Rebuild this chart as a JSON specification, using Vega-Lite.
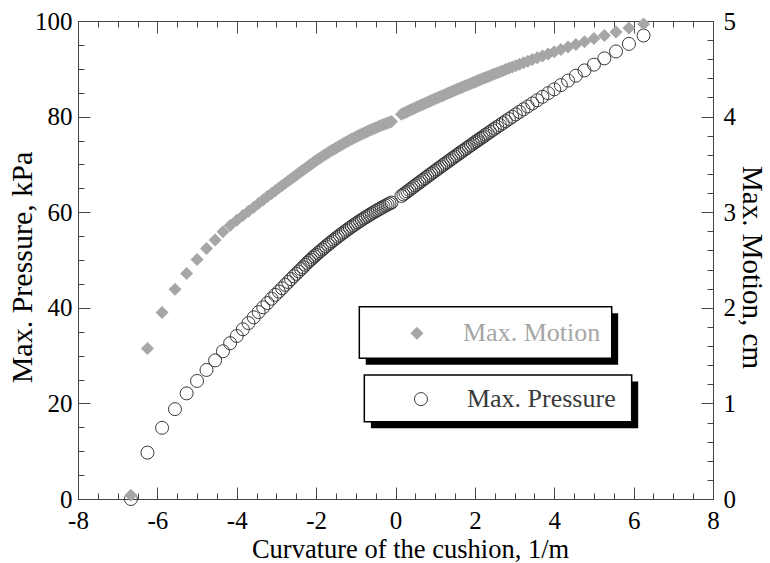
{
  "$schema": "https://vega.github.io/schema/vega-lite/v6.json",
  "width": 635,
  "height": 478,
  "autosize": "none",
  "padding": {"left": 78, "top": 21, "right": 57, "bottom": 64},
  "background": "white",
  "config": {
    "view": {"stroke": null},
    "font": "Liberation Serif",
    "axis": {
      "labelFont": "Liberation Serif",
      "titleFont": "Liberation Serif",
      "labelFontSize": 25,
      "titleFontSize": 26,
      "titleFontWeight": "normal",
      "labelColor": "black",
      "titleColor": "black",
      "domainColor": "#444444",
      "tickColor": "#444444",
      "grid": false,
      "labelFlush": false,
      "labelOverlap": false
    }
  },
  "datasets": {
    "curve": [
      {"c": -6.667, "p": 0, "m": 0.04},
      {"c": -6.25, "p": 9.7, "m": 1.575},
      {"c": -5.882, "p": 14.9, "m": 1.95},
      {"c": -5.556, "p": 18.8, "m": 2.195},
      {"c": -5.263, "p": 22.1, "m": 2.36},
      {"c": -5.0, "p": 24.7, "m": 2.505},
      {"c": -4.762, "p": 27.0, "m": 2.62},
      {"c": -4.545, "p": 29.0, "m": 2.71},
      {"c": -4.348, "p": 30.9, "m": 2.795},
      {"c": -4.167, "p": 32.6, "m": 2.86},
      {"c": -4.0, "p": 34.1, "m": 2.915},
      {"c": -3.846, "p": 35.5, "m": 2.965},
      {"c": -3.704, "p": 36.8, "m": 3.011},
      {"c": -3.571, "p": 38.0, "m": 3.053},
      {"c": -3.448, "p": 39.1, "m": 3.093},
      {"c": -3.333, "p": 40.1, "m": 3.129},
      {"c": -3.226, "p": 41.0, "m": 3.163},
      {"c": -3.125, "p": 41.9, "m": 3.195},
      {"c": -3.03, "p": 42.7, "m": 3.224},
      {"c": -2.941, "p": 43.4, "m": 3.252},
      {"c": -2.857, "p": 44.1, "m": 3.278},
      {"c": -2.778, "p": 44.8, "m": 3.303},
      {"c": -2.703, "p": 45.4, "m": 3.326},
      {"c": -2.632, "p": 46.0, "m": 3.348},
      {"c": -2.564, "p": 46.6, "m": 3.369},
      {"c": -2.5, "p": 47.1, "m": 3.388},
      {"c": -2.439, "p": 47.6, "m": 3.407},
      {"c": -2.381, "p": 48.1, "m": 3.425},
      {"c": -2.326, "p": 48.5, "m": 3.442},
      {"c": -2.273, "p": 49.0, "m": 3.458},
      {"c": -2.222, "p": 49.4, "m": 3.473},
      {"c": -2.174, "p": 49.8, "m": 3.488},
      {"c": -2.128, "p": 50.1, "m": 3.502},
      {"c": -2.083, "p": 50.5, "m": 3.515},
      {"c": -2.041, "p": 50.8, "m": 3.528},
      {"c": -2.0, "p": 51.1, "m": 3.54},
      {"c": -1.95, "p": 51.46, "m": 3.554},
      {"c": -1.9, "p": 51.82, "m": 3.568},
      {"c": -1.85, "p": 52.18, "m": 3.582},
      {"c": -1.8, "p": 52.53, "m": 3.595},
      {"c": -1.75, "p": 52.87, "m": 3.608},
      {"c": -1.7, "p": 53.22, "m": 3.621},
      {"c": -1.65, "p": 53.56, "m": 3.634},
      {"c": -1.6, "p": 53.89, "m": 3.647},
      {"c": -1.55, "p": 54.22, "m": 3.659},
      {"c": -1.5, "p": 54.55, "m": 3.672},
      {"c": -1.45, "p": 54.87, "m": 3.684},
      {"c": -1.4, "p": 55.19, "m": 3.696},
      {"c": -1.35, "p": 55.5, "m": 3.708},
      {"c": -1.3, "p": 55.81, "m": 3.72},
      {"c": -1.25, "p": 56.12, "m": 3.731},
      {"c": -1.2, "p": 56.42, "m": 3.742},
      {"c": -1.15, "p": 56.72, "m": 3.754},
      {"c": -1.1, "p": 57.01, "m": 3.765},
      {"c": -1.05, "p": 57.3, "m": 3.775},
      {"c": -1.0, "p": 57.58, "m": 3.786},
      {"c": -0.95, "p": 57.87, "m": 3.797},
      {"c": -0.9, "p": 58.14, "m": 3.807},
      {"c": -0.85, "p": 58.42, "m": 3.817},
      {"c": -0.8, "p": 58.69, "m": 3.827},
      {"c": -0.75, "p": 58.95, "m": 3.837},
      {"c": -0.7, "p": 59.21, "m": 3.846},
      {"c": -0.65, "p": 59.47, "m": 3.856},
      {"c": -0.6, "p": 59.72, "m": 3.865},
      {"c": -0.55, "p": 59.97, "m": 3.874},
      {"c": -0.5, "p": 60.21, "m": 3.883},
      {"c": -0.45, "p": 60.45, "m": 3.892},
      {"c": -0.4, "p": 60.69, "m": 3.901},
      {"c": -0.35, "p": 60.92, "m": 3.909},
      {"c": -0.3, "p": 61.15, "m": 3.917},
      {"c": -0.25, "p": 61.38, "m": 3.926},
      {"c": -0.2, "p": 61.6, "m": 3.933},
      {"c": -0.15, "p": 61.81, "m": 3.941},
      {"c": -0.1, "p": 62.02, "m": 3.949},
      {"c": 0.15, "p": 63.4, "m": 4.025},
      {"c": 0.2, "p": 63.72, "m": 4.035},
      {"c": 0.25, "p": 64.03, "m": 4.044},
      {"c": 0.3, "p": 64.34, "m": 4.054},
      {"c": 0.35, "p": 64.65, "m": 4.064},
      {"c": 0.4, "p": 64.97, "m": 4.073},
      {"c": 0.45, "p": 65.28, "m": 4.083},
      {"c": 0.5, "p": 65.59, "m": 4.092},
      {"c": 0.55, "p": 65.9, "m": 4.102},
      {"c": 0.6, "p": 66.21, "m": 4.111},
      {"c": 0.65, "p": 66.52, "m": 4.121},
      {"c": 0.7, "p": 66.83, "m": 4.13},
      {"c": 0.75, "p": 67.13, "m": 4.14},
      {"c": 0.8, "p": 67.44, "m": 4.149},
      {"c": 0.85, "p": 67.75, "m": 4.158},
      {"c": 0.9, "p": 68.05, "m": 4.168},
      {"c": 0.95, "p": 68.36, "m": 4.177},
      {"c": 1.0, "p": 68.66, "m": 4.186},
      {"c": 1.05, "p": 68.96, "m": 4.195},
      {"c": 1.1, "p": 69.27, "m": 4.204},
      {"c": 1.15, "p": 69.57, "m": 4.213},
      {"c": 1.2, "p": 69.87, "m": 4.222},
      {"c": 1.25, "p": 70.17, "m": 4.232},
      {"c": 1.3, "p": 70.47, "m": 4.241},
      {"c": 1.35, "p": 70.77, "m": 4.249},
      {"c": 1.4, "p": 71.07, "m": 4.258},
      {"c": 1.45, "p": 71.37, "m": 4.267},
      {"c": 1.5, "p": 71.67, "m": 4.276},
      {"c": 1.55, "p": 71.96, "m": 4.285},
      {"c": 1.6, "p": 72.26, "m": 4.294},
      {"c": 1.65, "p": 72.56, "m": 4.303},
      {"c": 1.7, "p": 72.85, "m": 4.311},
      {"c": 1.75, "p": 73.14, "m": 4.32},
      {"c": 1.8, "p": 73.44, "m": 4.329},
      {"c": 1.85, "p": 73.73, "m": 4.337},
      {"c": 1.9, "p": 74.02, "m": 4.346},
      {"c": 1.95, "p": 74.32, "m": 4.355},
      {"c": 2.0, "p": 74.61, "m": 4.363},
      {"c": 2.041, "p": 74.85, "m": 4.37},
      {"c": 2.083, "p": 75.09, "m": 4.377},
      {"c": 2.128, "p": 75.35, "m": 4.385},
      {"c": 2.174, "p": 75.61, "m": 4.393},
      {"c": 2.222, "p": 75.89, "m": 4.401},
      {"c": 2.273, "p": 76.19, "m": 4.409},
      {"c": 2.326, "p": 76.49, "m": 4.418},
      {"c": 2.381, "p": 76.8, "m": 4.427},
      {"c": 2.439, "p": 77.14, "m": 4.437},
      {"c": 2.5, "p": 77.48, "m": 4.447},
      {"c": 2.564, "p": 77.85, "m": 4.457},
      {"c": 2.632, "p": 78.23, "m": 4.468},
      {"c": 2.703, "p": 78.63, "m": 4.48},
      {"c": 2.778, "p": 79.05, "m": 4.492},
      {"c": 2.857, "p": 79.49, "m": 4.505},
      {"c": 2.941, "p": 79.96, "m": 4.518},
      {"c": 3.03, "p": 80.46, "m": 4.532},
      {"c": 3.125, "p": 80.98, "m": 4.547},
      {"c": 3.226, "p": 81.54, "m": 4.562},
      {"c": 3.333, "p": 82.13, "m": 4.579},
      {"c": 3.448, "p": 82.75, "m": 4.596},
      {"c": 3.571, "p": 83.42, "m": 4.615},
      {"c": 3.704, "p": 84.14, "m": 4.635},
      {"c": 3.846, "p": 84.9, "m": 4.656},
      {"c": 4.0, "p": 85.71, "m": 4.678},
      {"c": 4.167, "p": 86.59, "m": 4.702},
      {"c": 4.348, "p": 87.54, "m": 4.727},
      {"c": 4.545, "p": 88.56, "m": 4.755},
      {"c": 4.762, "p": 89.67, "m": 4.784},
      {"c": 5.0, "p": 90.87, "m": 4.816},
      {"c": 5.263, "p": 92.19, "m": 4.849},
      {"c": 5.556, "p": 93.63, "m": 4.886},
      {"c": 5.882, "p": 95.21, "m": 4.926},
      {"c": 6.25, "p": 96.96, "m": 4.969}
    ]
  },
  "layer": [
    {
      "data": {"name": "curve"},
      "mark": {"type": "point", "shape": "circle", "filled": false, "stroke": "#3a3a3a", "strokeWidth": 1, "size": 169, "opacity": 1},
      "encoding": {
        "x": {
          "field": "c", "type": "quantitative",
          "scale": {"domain": [-8, 8], "nice": false, "zero": false},
          "axis": {"orient": "bottom", "values": [-8, -6, -4, -2, 0, 2, 4, 6, 8], "labelExpr": "'' + datum.value", "tickSize": -12, "labelPadding": 21, "title": "Curvature of the cushion, 1/m", "titleFontSize": 26.5, "titlePadding": 3, "titleX": 332}
        },
        "y": {
          "field": "p", "type": "quantitative",
          "scale": {"domain": [0, 100], "nice": false},
          "axis": {"orient": "left", "values": [0, 20, 40, 60, 80, 100], "tickSize": -12, "labelPadding": 18, "title": "Max. Pressure, kPa", "titleFontSize": 30, "titlePadding": -3, "titleY": 246}
        }
      }
    },
    {
      "data": {"name": "curve"},
      "mark": {"type": "point", "shape": "diamond", "filled": true, "color": "#a6a6a6", "size": 169, "opacity": 1},
      "encoding": {
        "x": {
          "field": "c", "type": "quantitative",
          "scale": {"domain": [-8, 8], "nice": false, "zero": false},
          "axis": {"orient": "top", "values": [-8, -6, -4, -2, 0, 2, 4, 6, 8], "tickSize": -12, "labels": false, "title": null}
        },
        "y": {
          "field": "m", "type": "quantitative",
          "scale": {"domain": [0, 5], "nice": false},
          "axis": {"orient": "right", "values": [0, 1, 2, 3, 4, 5], "tickSize": -12, "labelPadding": 22, "title": "Max. Motion, cm", "titleFontSize": 29, "titlePadding": 1, "titleY": 246}
        }
      }
    },
    {
      "data": {"values": [{}]},
      "mark": {"type": "rect", "fill": "black"},
      "encoding": {
        "x": {"datum": -0.75, "type": "quantitative", "axis": null},
        "x2": {"datum": 5.61},
        "y": {"datum": 38.87, "type": "quantitative", "scale": {"domain": [0, 100], "nice": false}, "axis": null},
        "y2": {"datum": 28.08}
      }
    },
    {
      "data": {"values": [{}]},
      "mark": {"type": "rect", "fill": "white", "stroke": "black", "strokeWidth": 1.5},
      "encoding": {
        "x": {"datum": -0.912, "type": "quantitative", "axis": null},
        "x2": {"datum": 5.448},
        "y": {"datum": 40.23, "type": "quantitative", "scale": {"domain": [0, 100], "nice": false}, "axis": null},
        "y2": {"datum": 29.44}
      }
    },
    {
      "data": {"values": [{}]},
      "mark": {"type": "rect", "fill": "black"},
      "encoding": {
        "x": {"datum": -0.62, "type": "quantitative", "axis": null},
        "x2": {"datum": 6.115},
        "y": {"datum": 24.58, "type": "quantitative", "scale": {"domain": [0, 100], "nice": false}, "axis": null},
        "y2": {"datum": 14.81}
      }
    },
    {
      "data": {"values": [{}]},
      "mark": {"type": "rect", "fill": "white", "stroke": "black", "strokeWidth": 1.5},
      "encoding": {
        "x": {"datum": -0.786, "type": "quantitative", "axis": null},
        "x2": {"datum": 5.951},
        "y": {"datum": 25.94, "type": "quantitative", "scale": {"domain": [0, 100], "nice": false}, "axis": null},
        "y2": {"datum": 16.17}
      }
    },
    {
      "data": {"values": [{}]},
      "mark": {"type": "point", "shape": "diamond", "filled": true, "color": "#a6a6a6", "size": 169, "opacity": 1},
      "encoding": {
        "x": {"datum": 0.541, "type": "quantitative", "axis": null},
        "y": {"datum": 34.7, "type": "quantitative", "scale": {"domain": [0, 100], "nice": false}, "axis": null}
      }
    },
    {
      "data": {"values": [{}]},
      "mark": {"type": "text", "text": "Max. Motion", "align": "left", "baseline": "middle", "font": "Liberation Serif", "fontSize": 26, "color": "#a6a6a6"},
      "encoding": {
        "x": {"datum": 1.7, "type": "quantitative", "axis": null},
        "y": {"datum": 34.7, "type": "quantitative", "scale": {"domain": [0, 100], "nice": false}, "axis": null}
      }
    },
    {
      "data": {"values": [{}]},
      "mark": {"type": "point", "shape": "circle", "filled": false, "stroke": "#3a3a3a", "strokeWidth": 1, "size": 169, "opacity": 1},
      "encoding": {
        "x": {"datum": 0.642, "type": "quantitative", "axis": null},
        "y": {"datum": 20.9, "type": "quantitative", "scale": {"domain": [0, 100], "nice": false}, "axis": null}
      }
    },
    {
      "data": {"values": [{}]},
      "mark": {"type": "text", "text": "Max. Pressure", "align": "left", "baseline": "middle", "font": "Liberation Serif", "fontSize": 26, "color": "#3a3a3a"},
      "encoding": {
        "x": {"datum": 1.8, "type": "quantitative", "axis": null},
        "y": {"datum": 20.9, "type": "quantitative", "scale": {"domain": [0, 100], "nice": false}, "axis": null}
      }
    },
    {
      "data": {"values": [{}]},
      "mark": {"type": "point", "opacity": 0},
      "encoding": {
        "x": {
          "datum": 0, "type": "quantitative",
          "scale": {"domain": [-8, 8], "nice": false, "zero": false},
          "axis": {"orient": "bottom", "values": [-7.5, -7, -6.5, -5.5, -5, -4.5, -3.5, -3, -2.5, -1.5, -1, -0.5, 0.5, 1, 1.5, 2.5, 3, 3.5, 4.5, 5, 5.5, 6.5, 7, 7.5], "tickSize": -6, "labels": false, "domain": false, "title": null}
        },
        "y": {
          "datum": 0, "type": "quantitative",
          "scale": {"domain": [0, 100], "nice": false},
          "axis": {"orient": "left", "values": [5, 10, 15, 25, 30, 35, 45, 50, 55, 65, 70, 75, 85, 90, 95], "tickSize": -6, "labels": false, "domain": false, "title": null}
        }
      }
    },
    {
      "data": {"values": [{}]},
      "mark": {"type": "point", "opacity": 0},
      "encoding": {
        "x": {
          "datum": 0, "type": "quantitative",
          "scale": {"domain": [-8, 8], "nice": false, "zero": false},
          "axis": {"orient": "top", "values": [-7.5, -7, -6.5, -5.5, -5, -4.5, -3.5, -3, -2.5, -1.5, -1, -0.5, 0.5, 1, 1.5, 2.5, 3, 3.5, 4.5, 5, 5.5, 6.5, 7, 7.5], "tickSize": -6, "labels": false, "domain": false, "title": null}
        },
        "y": {
          "datum": 0, "type": "quantitative",
          "scale": {"domain": [0, 5], "nice": false},
          "axis": {"orient": "right", "values": [0.2, 0.4, 0.6, 0.8, 1.2, 1.4, 1.6, 1.8, 2.2, 2.4, 2.6, 2.8, 3.2, 3.4, 3.6, 3.8, 4.2, 4.4, 4.6, 4.8], "tickSize": -6, "labels": false, "domain": false, "title": null}
        }
      }
    }
  ],
  "resolve": {"scale": {"y": "independent"}, "axis": {"x": "independent", "y": "independent"}}
}
